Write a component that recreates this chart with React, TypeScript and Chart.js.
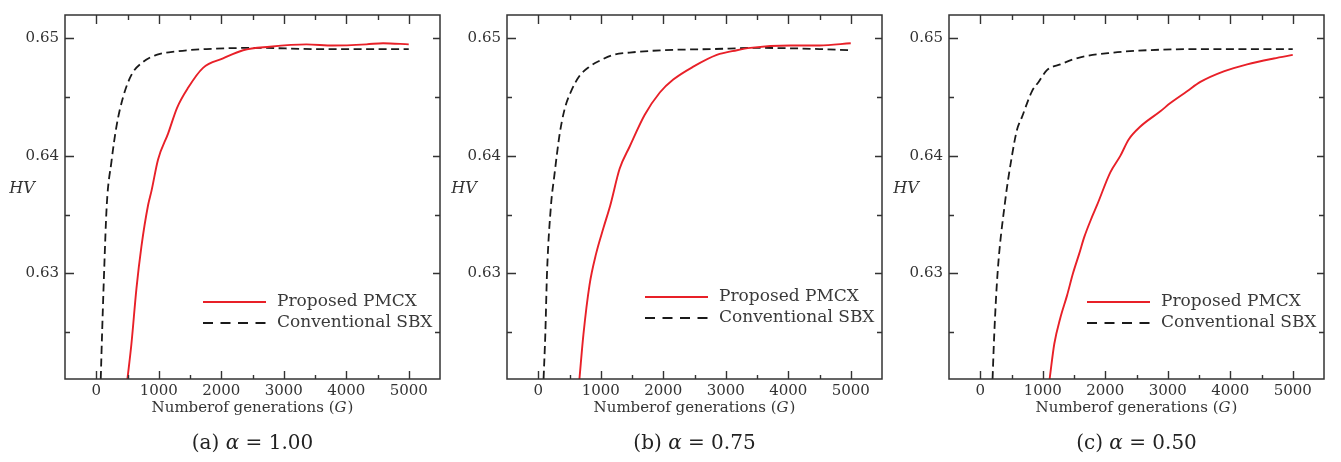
import React, { useEffect, useRef } from 'react';
import { Chart, registerables } from 'chart.js';

Chart.register(...registerables);

// ---------- data ----------
const xTicks = [0, 1000, 2000, 3000, 4000, 5000];
const xTickLabels = ['0', '1000', '2000', '3000', '4000', '5000'];
const xMinorTicks = [500, 1500, 2500, 3500, 4500];
const yTicks = [0.63, 0.64, 0.65];
const yTickLabels = ['0.63', '0.64', '0.65'];
const yMinorTicks = [0.625, 0.635, 0.645];
const seriesNames = ['Proposed PMCX', 'Conventional SBX'];
const panelLetters = ['(a)', '(b)', '(c)'];
const alphaValues = ['1.00', '0.75', '0.50'];
const yAxisTitle = 'HV';
const xAxisTitle = 'Numberof generations (';
const xAxisVar = 'G';

// (a) alpha = 1.00
const pmcxA_G = [499, 563, 643, 723, 829, 883, 989, 1149, 1293, 1469, 1709, 2029, 2349, 2776, 3363, 3789, 4323, 4589, 5000];
const pmcxA_V = [0.621, 0.624, 0.6287, 0.6323, 0.6358, 0.637, 0.6397, 0.6419, 0.6441, 0.6458, 0.6475, 0.6483, 0.649, 0.6493, 0.6495, 0.6494, 0.6495, 0.6496, 0.6495];
const sbxA_G = [72, 93, 125, 168, 243, 323, 429, 563, 749, 963, 1283, 1763, 2563, 3500, 4500, 5000];
const sbxA_V = [0.621, 0.6248, 0.63, 0.6358, 0.6395, 0.6425, 0.645, 0.6469, 0.648, 0.6486, 0.6489, 0.6491, 0.6492, 0.6491, 0.6491, 0.6491];

// (b) alpha = 0.75
const pmcxB_G = [659, 723, 820, 927, 1045, 1153, 1302, 1463, 1704, 1945, 2160, 2481, 2857, 3178, 3392, 4035, 4500, 5000];
const pmcxB_V = [0.621, 0.6248, 0.629, 0.6317, 0.6339, 0.6358, 0.6389, 0.6408, 0.6435, 0.6454, 0.6465, 0.6476, 0.6486, 0.649, 0.6492, 0.6494, 0.6494, 0.6496];
const sbxB_G = [85, 113, 140, 204, 257, 338, 418, 525, 659, 820, 981, 1195, 1463, 1998, 2802, 3500, 4500, 5000];
const sbxB_V = [0.621, 0.6248, 0.63, 0.6358, 0.6383, 0.6417, 0.6439, 0.6455, 0.6468, 0.6476, 0.6481, 0.6486, 0.6488, 0.649, 0.6491, 0.6492, 0.6491, 0.649];

// (c) alpha = 0.50
const pmcxC_G = [1110, 1185, 1281, 1388, 1484, 1585, 1665, 1788, 1868, 2081, 2241, 2375, 2562, 2882, 3042, 3309, 3522, 3896, 4270, 4697, 5000];
const pmcxC_V = [0.621, 0.624, 0.6262, 0.6281, 0.63, 0.6317, 0.6331, 0.6348, 0.6358, 0.6386, 0.64, 0.6414, 0.6425, 0.6438, 0.6445, 0.6455, 0.6463, 0.6472, 0.6478, 0.6483, 0.6486];
const sbxC_G = [197, 224, 277, 395, 507, 587, 667, 827, 934, 1067, 1281, 1601, 2135, 2669, 3500, 4500, 5000];
const sbxC_V = [0.621, 0.6248, 0.63, 0.636, 0.64, 0.6422, 0.6433, 0.6455, 0.6463, 0.6473, 0.6478, 0.6484, 0.6488, 0.649, 0.6491, 0.6491, 0.6491];

const panels = [
  { pmcxG: pmcxA_G, pmcxV: pmcxA_V, sbxG: sbxA_G, sbxV: sbxA_V },
  { pmcxG: pmcxB_G, pmcxV: pmcxB_V, sbxG: sbxB_G, sbxV: sbxB_V },
  { pmcxG: pmcxC_G, pmcxV: pmcxC_V, sbxG: sbxC_G, sbxV: sbxC_V },
];

// ---------- layout / style ----------
const CANVAS_W = 447;
const CANVAS_H = 462;
const panelLeft = [0, 442, 884];
const legendDy = [0, -5, 0];
const FONT = '"DejaVu Serif", "Liberation Serif", serif';
const AXIS_COLOR = '#333';
const TEXT_COLOR = '#333';
const RED = 'rgb(232, 32, 40)';
const BLACK = '#1a1a1a';

const zip = (xs: number[], ys: number[]) => xs.map((x, i) => ({ x, y: ys[i] }));

function makeDecorPlugin(idx: number) {
  return {
    id: 'panelDecor' + idx,
    afterDraw(chart: any) {
      const { ctx, chartArea, scales } = chart;
      const { left, right, top, bottom } = chartArea;
      const xs = scales.x;
      const ys = scales.y;
      ctx.save();
      // frame
      ctx.strokeStyle = AXIS_COLOR;
      ctx.lineWidth = 1.5;
      ctx.setLineDash([]);
      ctx.strokeRect(left, top, right - left, bottom - top);
      // inward ticks
      ctx.lineWidth = 1.4;
      ctx.beginPath();
      xTicks.forEach((v) => {
        const px = Math.round(xs.getPixelForValue(v)) + 0.5;
        ctx.moveTo(px, bottom); ctx.lineTo(px, bottom - 8);
        ctx.moveTo(px, top); ctx.lineTo(px, top + 9);
      });
      xMinorTicks.forEach((v) => {
        const px = Math.round(xs.getPixelForValue(v)) + 0.5;
        ctx.moveTo(px, bottom); ctx.lineTo(px, bottom - 4);
        ctx.moveTo(px, top); ctx.lineTo(px, top + 5);
      });
      yTicks.forEach((v) => {
        const py = Math.round(ys.getPixelForValue(v)) + 0.5;
        ctx.moveTo(left, py); ctx.lineTo(left + 9, py);
        ctx.moveTo(right, py); ctx.lineTo(right - 7, py);
      });
      yMinorTicks.forEach((v) => {
        const py = Math.round(ys.getPixelForValue(v)) + 0.5;
        ctx.moveTo(left, py); ctx.lineTo(left + 5, py);
        ctx.moveTo(right, py); ctx.lineTo(right - 5, py);
      });
      ctx.stroke();

      // HV label
      ctx.fillStyle = TEXT_COLOR;
      ctx.textBaseline = 'middle';
      ctx.textAlign = 'center';
      ctx.font = `italic 16px ${FONT}`;
      ctx.fillText(yAxisTitle, left - 43, 189);

      // x axis title
      const cx = (left + right) / 2;
      ctx.font = `15px ${FONT}`;
      const t1 = xAxisTitle;
      const w1 = ctx.measureText(t1).width;
      ctx.font = `italic 15px ${FONT}`;
      const w2 = ctx.measureText(xAxisVar).width;
      ctx.font = `15px ${FONT}`;
      const w3 = ctx.measureText(')').width;
      let sx = cx - (w1 + w2 + w3 + 1) / 2;
      ctx.textAlign = 'left';
      ctx.fillText(t1, sx, bottom + 29);
      ctx.font = `italic 15px ${FONT}`;
      ctx.fillText(xAxisVar, sx + w1, bottom + 29);
      ctx.font = `15px ${FONT}`;
      ctx.fillText(')', sx + w1 + w2 + 1, bottom + 29);

      // caption
      ctx.fillStyle = '#222';
      const capA = panelLetters[idx] + ' ';
      const capB = '\u03B1';
      const capC = ' = ' + alphaValues[idx];
      ctx.font = `20px ${FONT}`;
      const cw1 = ctx.measureText(capA).width;
      const cw3 = ctx.measureText(capC).width;
      ctx.font = `italic 20px ${FONT}`;
      const cw2 = ctx.measureText(capB).width;
      sx = cx - (cw1 + cw2 + cw3) / 2;
      ctx.font = `20px ${FONT}`;
      ctx.fillText(capA, sx, 444);
      ctx.font = `italic 20px ${FONT}`;
      ctx.fillText(capB, sx + cw1, 444);
      ctx.font = `20px ${FONT}`;
      ctx.fillText(capC, sx + cw1 + cw2, 444);

      // legend
      const ly0 = bottom - 77 + legendDy[idx];
      chart.data.datasets.forEach((ds: any, i: number) => {
        const ly = ly0 + i * 21;
        ctx.strokeStyle = ds.borderColor;
        ctx.lineWidth = 1.8;
        ctx.setLineDash(i === 1 ? [10, 7.5] : []);
        ctx.beginPath();
        ctx.moveTo(right - 237, ly);
        ctx.lineTo(right - 174, ly);
        ctx.stroke();
        ctx.setLineDash([]);
        ctx.fillStyle = '#3a3a3a';
        ctx.font = `17px ${FONT}`;
        ctx.textAlign = 'left';
        ctx.fillText(ds.label, right - 163, ly);
      });
      ctx.restore();
    },
  };
}

function Panel({ idx }: { idx: number }) {
  const ref = useRef<HTMLCanvasElement>(null);
  useEffect(() => {
    if (!ref.current) return;
    const p = panels[idx];
    const chart = new Chart(ref.current, {
      type: 'line',
      data: {
        datasets: [
          {
            label: seriesNames[0],
            data: zip(p.pmcxG, p.pmcxV),
            borderColor: RED,
            borderWidth: 1.9,
            pointRadius: 0,
            cubicInterpolationMode: 'monotone',
            fill: false,
          },
          {
            label: seriesNames[1],
            data: zip(p.sbxG, p.sbxV),
            borderColor: BLACK,
            borderWidth: 1.8,
            borderDash: [8, 4.5],
            pointRadius: 0,
            cubicInterpolationMode: 'monotone',
            fill: false,
          },
        ],
      },
      options: {
        animation: false,
        responsive: false,
        devicePixelRatio: 1,
        layout: { padding: { left: 0, right: 7, top: 5, bottom: 53 } },
        plugins: { legend: { display: false }, tooltip: { enabled: false } },
        scales: {
          x: {
            type: 'linear',
            min: -500,
            max: 5500,
            afterBuildTicks: (s: any) => { s.ticks = xTicks.map((v) => ({ value: v })); },
            afterFit: (s: any) => { s.height = 30; },
            grid: { display: false, drawTicks: false },
            border: { display: false },
            ticks: {
              autoSkip: false,
              maxRotation: 0,
              padding: 3,
              color: TEXT_COLOR,
              font: { family: FONT, size: 15 },
              callback: (v: any) => { const i = xTicks.indexOf(Number(v)); return i >= 0 ? xTickLabels[i] : ''; },
            },
          },
          y: {
            type: 'linear',
            min: 0.621,
            max: 0.652,
            afterBuildTicks: (s: any) => { s.ticks = yTicks.map((v) => ({ value: v })); },
            afterFit: (s: any) => { s.width = 65; },
            grid: { display: false, drawTicks: false },
            border: { display: false },
            ticks: {
              autoSkip: false,
              padding: 6,
              color: TEXT_COLOR,
              font: { family: FONT, size: 15 },
              callback: (v: any) => {
                const i = yTicks.findIndex((t) => Math.abs(t - Number(v)) < 1e-9);
                return i >= 0 ? yTickLabels[i] : '';
              },
            },
          },
        },
      } as any,
      plugins: [makeDecorPlugin(idx)],
    });
    return () => chart.destroy();
  }, [idx]);
  return (
    <canvas
      ref={ref}
      width={CANVAS_W}
      height={CANVAS_H}
      style={{ position: 'absolute', left: panelLeft[idx], top: 0, width: CANVAS_W, height: CANVAS_H }}
    />
  );
}

export default function App() {
  return (
    <div style={{ position: 'absolute', left: 0, top: 0, width: 1341, height: 462, background: '#fff' }}>
      <Panel idx={0} />
      <Panel idx={1} />
      <Panel idx={2} />
    </div>
  );
}
